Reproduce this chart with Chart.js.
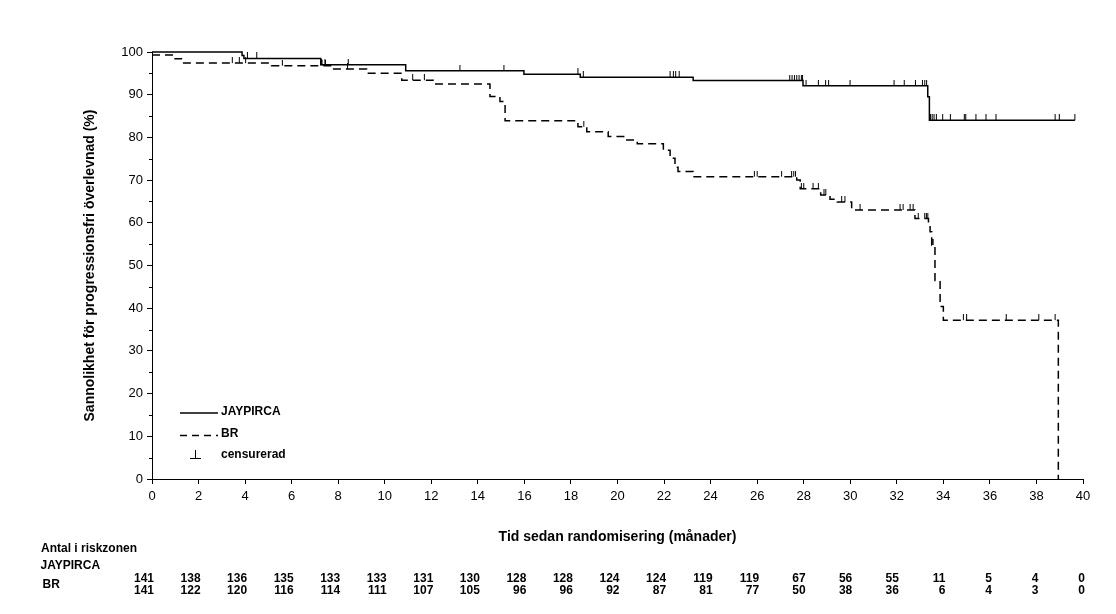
<!DOCTYPE html>
<html><head><meta charset="utf-8">
<script src="https://cdn.jsdelivr.net/npm/chart.js@4.4.0/dist/chart.umd.min.js"></script>
<style>html,body{margin:0;padding:0;background:#fff}canvas{display:block}</style>
</head><body>
<div style="width:1116px;height:614px;position:relative"><canvas id="c" width="1116" height="614"></canvas></div>
<script>
// ---- data ----
const xTicks = [0,2,4,6,8,10,12,14,16,18,20,22,24,26,28,30,32,34,36,38,40];
const yTicks = [0,10,20,30,40,50,60,70,80,90,100];
const seriesNames = ['JAYPIRCA', 'BR'];
const censorLabel = 'censurerad';
const riskTitle = 'Antal i riskzonen';
const xTitle = 'Tid sedan randomisering (månader)';
const yTitle = 'Sannolikhet för progressionsfri överlevnad (%)';

const jayT = [0, 3.87, 3.95, 7.25, 10.9, 15.98, 18.4, 23.25, 27.97, 33.33, 33.4, 39.65];
const jayV = [100, 99.2, 98.5, 97.0, 95.6, 94.8, 94.1, 93.3, 92.1, 89.5, 84.0, 84.0];

const brT = [0, 0.99, 1.3, 5.14, 7.72, 9.22, 10.73, 12.08, 14.52, 14.95, 15.17, 18.3, 18.68, 19.6, 20.4, 20.85, 21.97, 22.26, 22.47, 22.6, 23.25, 27.7, 27.85, 28.73, 29.13, 29.44, 30.06, 32.78, 33.36, 33.43, 33.5, 33.64, 33.86, 34.0, 38.94];
const brV = [99.3, 98.4, 97.4, 96.8, 96.0, 95.0, 93.4, 92.5, 89.6, 88.4, 83.9, 82.5, 81.3, 80.2, 79.4, 78.5, 77.0, 75.1, 73.0, 72.0, 70.8, 70.0, 68.0, 66.5, 65.5, 64.9, 63.0, 61.0, 59.9, 57.9, 54.8, 46.5, 40.4, 37.2, 0];

const jayCensor = [4.1, 4.5, 7.29, 7.43, 8.43, 13.23, 15.12, 18.3, 18.53, 22.26, 22.4, 22.5, 22.65, 27.4, 27.5, 27.6, 27.7, 27.8, 27.9, 27.95, 28.1, 28.63, 28.94, 29.07, 29.99, 31.88, 32.32, 32.8, 33.1, 33.2, 33.28, 33.45, 33.52, 33.6, 33.7, 33.97, 34.3, 34.9, 34.96, 35.4, 35.83, 36.26, 38.8, 38.98, 39.65];
const brCensor = [3.45, 3.75, 4.02, 5.6, 7.3, 7.45, 8.4, 11.2, 11.7, 18.55, 25.88, 26.0, 27.05, 27.48, 27.57, 27.65, 27.9, 28.0, 28.4, 28.63, 28.87, 28.95, 29.63, 29.77, 30.42, 32.14, 32.27, 32.57, 32.7, 32.92, 33.2, 33.27, 33.33, 33.52, 33.56, 34.86, 35.0, 36.7, 38.1, 38.8];

const riskJay = [141,138,136,135,133,133,131,130,128,128,124,124,119,119,67,56,55,11,5,4,0];
const riskBR  = [141,122,120,116,114,111,107,105,96,96,92,87,81,77,50,38,36,6,4,3,0];

// ---- helpers ----
const FONT = "'Liberation Sans', Arial, Helvetica, sans-serif";
const NARROW = "'Liberation Sans Narrow', 'Arial Narrow', 'Liberation Sans', Arial, sans-serif";
function toPts(T, V) { return T.map((t, i) => ({x: t, y: V[i]})); }
function valueAt(T, V, t) { let v = V[0]; for (let i = 0; i < T.length; i++) { if (T[i] <= t) v = V[i]; } return v; }
function censorPts(C, T, V) { return C.map(t => ({x: t, y: valueAt(T, V, t)})); }
function tickImg() {
  const c = document.createElement('canvas'); c.width = 3; c.height = 12;
  const g = c.getContext('2d'); g.fillStyle = '#000'; g.fillRect(1, 0, 1, 6);
  return c;
}
const censorMark = tickImg();

const overlay = {
  id: 'overlay',
  afterDraw(chart) {
    const ctx = chart.ctx, xs = chart.scales.x, ys = chart.scales.y;
    ctx.save();
    // minor y ticks
    ctx.strokeStyle = '#000'; ctx.lineWidth = 1;
    for (let i = 0; i < yTicks.length - 1; i++) {
      const py = Math.round(ys.getPixelForValue((yTicks[i] + yTicks[i+1]) / 2)) + 0.5;
      ctx.beginPath(); ctx.moveTo(xs.left - 3, py); ctx.lineTo(xs.left, py); ctx.stroke();
    }
    // legend
    ctx.fillStyle = '#000';
    ctx.font = 'bold 12px ' + FONT; ctx.textBaseline = 'middle'; ctx.textAlign = 'left';
    ctx.lineWidth = 1.4;
    ctx.beginPath(); ctx.moveTo(180, 413); ctx.lineTo(218, 413); ctx.stroke();
    ctx.fillText(seriesNames[0], 221, 412);
    ctx.setLineDash([7, 5]);
    ctx.beginPath(); ctx.moveTo(180, 435.5); ctx.lineTo(218, 435.5); ctx.stroke();
    ctx.setLineDash([]);
    ctx.fillText(seriesNames[1], 221, 434);
    ctx.lineWidth = 1;
    ctx.beginPath(); ctx.moveTo(190, 458.5); ctx.lineTo(201, 458.5); ctx.moveTo(195.5, 450); ctx.lineTo(195.5, 458.5); ctx.stroke();
    ctx.fillText(censorLabel, 221, 455);
    // risk table
    ctx.fillText(riskTitle, 41, 548.5);
    ctx.fillText(seriesNames[0], 40.5, 566);
    ctx.fillText(seriesNames[1], 42.5, 585);
    ctx.font = 'bold 12px ' + NARROW; ctx.textAlign = 'right';
    xTicks.forEach((t, i) => {
      const px = xs.getPixelForValue(t) + 2;
      ctx.fillText(String(riskJay[i]), px, 579);
      ctx.fillText(String(riskBR[i]), px, 591);
    });
    ctx.restore();
  }
};

new Chart(document.getElementById('c'), {
  type: 'line',
  data: {
    datasets: [
      { label: seriesNames[0], data: toPts(jayT, jayV), stepped: 'before', borderColor: '#000', borderWidth: 1.5, pointRadius: 0, fill: false, clip: false },
      { label: seriesNames[1], data: toPts(brT, brV), stepped: 'before', borderColor: '#000', borderWidth: 1.5, borderDash: [8, 5], pointRadius: 0, fill: false, clip: false },
      { label: censorLabel + ' ' + seriesNames[0], data: censorPts(jayCensor, jayT, jayV), showLine: false, pointStyle: censorMark, pointRadius: 3, clip: false },
      { label: censorLabel + ' ' + seriesNames[1], data: censorPts(brCensor, brT, brV), showLine: false, pointStyle: censorMark, pointRadius: 3, clip: false }
    ]
  },
  options: {
    responsive: false, animation: false, events: [],
    layout: { padding: { left: 0, right: 33, top: 52, bottom: 65 } },
    plugins: { legend: { display: false }, tooltip: { enabled: false } },
    scales: {
      x: {
        type: 'linear', min: 0, max: 40,
        afterBuildTicks: s => { s.ticks = xTicks.map(v => ({ value: v })); },
        afterFit: s => { s.height = 70; },
        ticks: { color: '#000', font: { family: FONT, size: 13 }, padding: 5, maxRotation: 0, autoSkip: false },
        grid: { drawOnChartArea: false, drawTicks: true, tickLength: 5, color: '#000' },
        border: { display: true, color: '#000', width: 1 },
        title: { display: true, text: xTitle, color: '#000', font: { family: FONT, size: 14, weight: 'bold' }, padding: { top: 0, bottom: 3.6 } }
      },
      y: {
        type: 'linear', min: 0, max: 100,
        afterBuildTicks: s => { s.ticks = yTicks.map(v => ({ value: v })); },
        afterFit: s => { s.width = 152; },
        ticks: { color: '#000', font: { family: FONT, size: 13 }, padding: 4 },
        grid: { drawOnChartArea: false, drawTicks: true, tickLength: 5, color: '#000' },
        border: { display: true, color: '#000', width: 1 },
        title: { display: true, text: yTitle, color: '#000', font: { family: FONT, size: 14, weight: 'bold' }, padding: { top: 81.6, bottom: 0 } }
      }
    }
  },
  plugins: [overlay]
});
</script>
</body></html>
